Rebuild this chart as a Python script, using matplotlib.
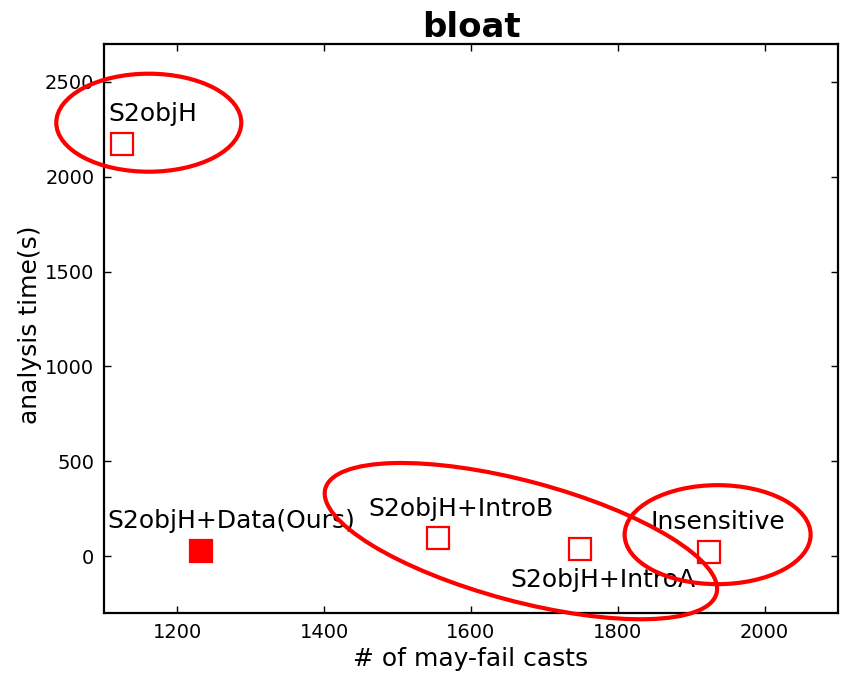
import matplotlib
matplotlib.use("Agg")
import matplotlib.pyplot as plt
import matplotlib.transforms as mtransforms
from matplotlib.patches import Ellipse

# Analysis results for the "bloat" benchmark
methods = ["S2objH", "S2objH+Data(Ours)", "S2objH+IntroB", "S2objH+IntroA", "Insensitive"]
may_fail_casts = [1125, 1232, 1555, 1748, 1924]
analysis_time = [2175, 29, 95, 37, 21]
filled = [False, True, False, False, False]

# label offsets (points) from each marker
label_offsets = [(-10, 16), (-67, 16), (-50, 16), (-50, -27), (-42, 17)]

DPI = 100
fig = plt.figure(figsize=(8.43, 6.73), dpi=DPI)
W, H = 843, 673
ax = fig.add_axes([104 / W, 1 - 613 / H, (838 - 104) / W, (613 - 44) / H])

red = "#ff0000"
for x, y, f in zip(may_fail_casts, analysis_time, filled):
    ax.plot([x], [y], marker="s", linestyle="none", markersize=16.5,
            markeredgewidth=1.6, markeredgecolor=red,
            markerfacecolor=red if f else "white")

for name, x, y, off in zip(methods, may_fail_casts, analysis_time, label_offsets):
    ax.annotate(name, xy=(x, y), xytext=off, textcoords="offset points",
                fontsize=18, ha="left", va="baseline", color="black")

ax.set_xlim(1100, 2100)
ax.set_ylim(-300, 2700)
ax.set_xticks([1200, 1400, 1600, 1800, 2000])
ax.set_yticks([0, 500, 1000, 1500, 2000, 2500])
ax.tick_params(direction="in", length=5, width=1, labelsize=14,
               top=True, right=True, pad=7, colors="black")
for s in ax.spines.values():
    s.set_linewidth(1.6)

ax.set_title("bloat", fontsize=24.5, fontweight="bold", pad=5)
ax.set_xlabel("# of may-fail casts", fontsize=18, labelpad=4)
ax.set_ylabel("analysis time(s)", fontsize=18)
ax.yaxis.set_label_coords(-0.085, 0.506)

# highlight groups: ellipses centred in data space, sized in pixels
px = mtransforms.Affine2D().scale(1.0 / DPI) + fig.dpi_scale_trans
groups = [
    ((1161, 2285), 185, 98, 0),
    ((1668, 79), 405, 120, -15),
    ((1936, 113), 186, 99, 0),
]
for (cx, cy), w, h, ang in groups:
    tr = px + mtransforms.ScaledTranslation(cx, cy, ax.transData)
    e = Ellipse((0, 0), w, h, angle=ang, transform=tr, fill=False,
                edgecolor=red, linewidth=3, clip_on=False, zorder=5)
    fig.add_artist(e)

fig.savefig("out.png", dpi=DPI)
